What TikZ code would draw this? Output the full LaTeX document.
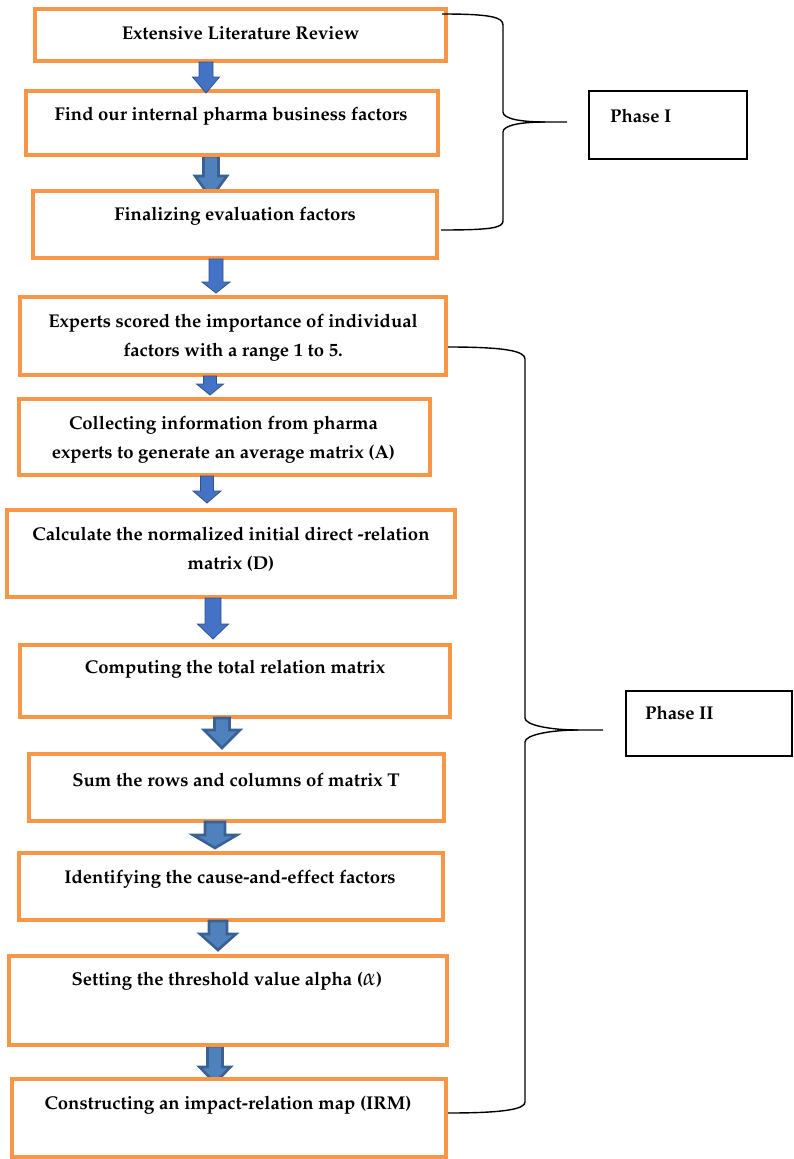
\documentclass[tikz,border=0pt]{standalone}
\usepackage[T1]{fontenc}
\usepackage{mathpazo}
\usetikzlibrary{calc,backgrounds}

\definecolor{boxorange}{HTML}{F79646}
\definecolor{arrblue}{HTML}{4472C4}
\definecolor{arrline}{HTML}{2F528F}
\definecolor{arrdark}{HTML}{3B6092}
\definecolor{arrlight}{HTML}{4F81BD}

\tikzset{
  stepbox/.style={draw=boxorange, line width=4pt, fill=white, rectangle, inner sep=0pt},
  steptext/.style={font=\bfseries\fontsize{18.5}{29}\selectfont, align=center, inner sep=0pt},
  phasebox/.style={draw=black, line width=1.2pt, rectangle, inner sep=0pt},
  bracel/.style={draw=black, line width=1.4pt},
  arrlite/.style={fill=arrblue, draw=arrline, line width=0.8pt},
  arrheavy/.style={fill=arrlight, draw=arrdark, line width=2.6pt},
}

% block arrow: [style]{from}{to}{x}{shaft half width}{head half width}{head length}{tip offset}
\newcommand{\blockarrow}[8][arrlite]{%
  \path[#1] let \p1=(#2.south), \p2=(#3.north) in
    (#4-#5,\y1+1pt) -- (#4+#5,\y1+1pt) -- (#4+#5,\y2-#8pt+#7pt) -- (#4+#6,\y2-#8pt+#7pt)
    -- (#4,\y2-#8pt) -- (#4-#6,\y2-#8pt+#7pt) -- (#4-#5,\y2-#8pt+#7pt) -- cycle;}

\begin{document}
\begin{tikzpicture}[x=1pt, y=-1pt]
  \useasboundingbox (0,0) rectangle (793,1159);

  % Steps
  \node[stepbox, minimum width=411, minimum height=52] (b1) at (240.5,35) {};
  \node[stepbox, minimum width=412, minimum height=64] (b2) at (232,123) {};
  \node[stepbox, minimum width=404, minimum height=67] (b3) at (235,224.5) {};
  \node[stepbox, minimum width=426, minimum height=78] (b4) at (233,336) {};
  \node[stepbox, minimum width=411, minimum height=76] (b5) at (224.5,437) {};
  \node[stepbox, minimum width=448, minimum height=87] (b6) at (231,553.5) {};
  \node[stepbox, minimum width=430, minimum height=72] (b7) at (235,681) {};
  \node[stepbox, minimum width=415, minimum height=67] (b8) at (236.5,787.5) {};
  \node[stepbox, minimum width=424, minimum height=67] (b9) at (231,886.5) {};
  \node[stepbox, minimum width=438, minimum height=89] (b10) at (228,1000.5) {};
  \node[stepbox, minimum width=434, minimum height=78] (b11) at (229,1118) {};

  \node[steptext] (t1) at (240.5,33) {Extensive Literature Review};
  \node[steptext] (t2) at (231,116) {Find our internal pharma business factors};
  \node[steptext] (t3) at (235,216) {Finalizing evaluation factors};
  \node[steptext] (t4) at (233,337.5) {Experts scored the importance of individual\\factors with a range 1 to 5.};
  \node[steptext] (t5) at (223.5,439.5) {Collecting information from pharma\\experts to generate an average matrix (A)};
  \node[steptext] (t6) at (231,549.5) {Calculate the normalized initial direct -relation\\matrix (D)};
  \node[steptext] (t7) at (235,669) {Computing the total relation matrix};
  \node[steptext] (t8) at (236,780) {Sum the rows and columns of matrix T};
  \node[steptext] (t9) at (230,879) {Identifying the cause-and-effect factors};
  \node[steptext] (t10) at (227,981) {Setting the threshold value alpha (\scalebox{1.3}{$\alpha$})};
  \node[steptext] (t11) at (228,1105) {Constructing an impact-relation map (IRM)};

  % Arrows between steps
  \begin{pgfonlayer}{background}
    \blockarrow[arrheavy]{b2}{b3}{211}{7.5}{16}{22}{9}
    \blockarrow[arrheavy]{b10}{b11}{215}{7.5}{15.5}{16}{6}
  \end{pgfonlayer}
  \blockarrow{b1}{b2}{206}{7}{13.5}{16}{4}
  \blockarrow{b3}{b4}{216}{7}{14}{11}{-2}
  \blockarrow{b4}{b5}{210}{6.5}{13.5}{11}{-2}
  \blockarrow{b5}{b6}{207}{6.5}{14}{12}{-5}
  \blockarrow{b6}{b7}{213}{8}{15.5}{15}{-4}
  \blockarrow[arrheavy]{b7}{b8}{222}{7.5}{18}{18}{-4}
  \blockarrow[arrheavy]{b8}{b9}{215}{10}{22}{13}{-3}
  \blockarrow[arrheavy]{b9}{b10}{218}{9}{18}{16}{-4}

  % Phases
  \node[phasebox, minimum width=158, minimum height=68] (p1) at (668,125) {};
  \node[steptext, anchor=west] (p1t) at (610,116) {Phase I};
  \node[phasebox, minimum width=166, minimum height=65] (p2) at (709,723.5) {};
  \node[steptext, anchor=west] (p2t) at (645,713) {Phase II};

  % Braces
  \coordinate (br1top) at (442,14);
  \coordinate (br1tip) at (567,122);
  \coordinate (br1bot) at (441,230);
  \draw[bracel] (br1top) .. controls (490,14) and (503,17) .. (503,25) -- (503,112)
    .. controls (503,119) and (522,122) .. (545,122) -- (br1tip);
  \draw[bracel] (545,122) .. controls (522,122) and (503,125) .. (503,132) -- (503,221)
    .. controls (503,228) and (490,230) .. (br1bot);

  \coordinate (br2top) at (448,347);
  \coordinate (br2tip) at (603,730);
  \coordinate (br2bot) at (448,1113);
  \draw[bracel] (br2top) .. controls (505,347) and (525,351) .. (525,359) -- (525,718)
    .. controls (525,725) and (550,730) .. (578,730) -- (br2tip);
  \draw[bracel] (578,730) .. controls (550,730) and (525,735) .. (525,742) -- (525,1102)
    .. controls (525,1109) and (505,1113) .. (br2bot);
\end{tikzpicture}
\end{document}
